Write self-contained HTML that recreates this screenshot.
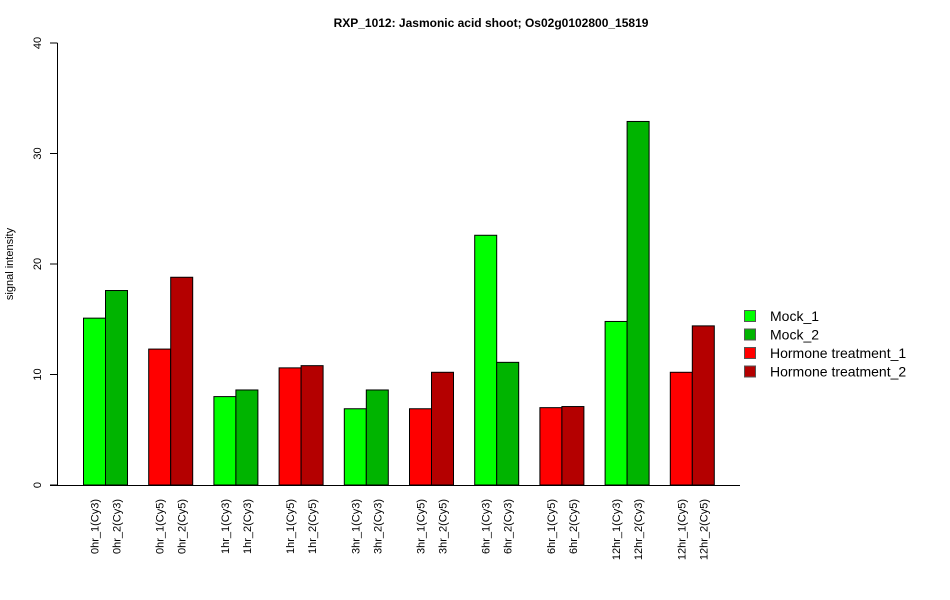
<!DOCTYPE html>
<html><head><meta charset="utf-8"><style>body{margin:0;background:#fff}svg{display:block;font-family:"Liberation Sans",Arial,sans-serif}</style></head>
<body>
<svg id="chart" width="950" height="600" viewBox="0 0 950 600">
<text x="491" y="27" text-anchor="middle" font-size="12" font-weight="bold">RXP_1012: Jasmonic acid shoot; Os02g0102800_15819</text>
<text transform="translate(13,264) rotate(-90)" text-anchor="middle" font-size="11">signal intensity</text>
<g id="plot"></g>
</svg>
<script>
const categories=["0hr_1(Cy3)","0hr_2(Cy3)","0hr_1(Cy5)","0hr_2(Cy5)","1hr_1(Cy3)","1hr_2(Cy3)","1hr_1(Cy5)","1hr_2(Cy5)","3hr_1(Cy3)","3hr_2(Cy3)","3hr_1(Cy5)","3hr_2(Cy5)","6hr_1(Cy3)","6hr_2(Cy3)","6hr_1(Cy5)","6hr_2(Cy5)","12hr_1(Cy3)","12hr_2(Cy3)","12hr_1(Cy5)","12hr_2(Cy5)"];
const values=[15.1,17.6,12.3,18.8,8.0,8.6,10.6,10.8,6.9,8.6,6.9,10.2,22.6,11.1,7.0,7.1,14.8,32.9,10.2,14.4];
const seriesIdx=[0,1,2,3,0,1,2,3,0,1,2,3,0,1,2,3,0,1,2,3];
const seriesNames=["Mock_1","Mock_2","Hormone treatment_1","Hormone treatment_2"];
const yTicks=[0,10,20,30,40];
const colors=["#00ff00","#00b400","#ff0000","#b40000"];
const NS="http://www.w3.org/2000/svg";
const g=document.getElementById('plot');
const y=v=>485-v*(442/40);
const x=i=>83+Math.floor(i/2)*65.2+(i%2)*22;
function mk(t,a,p){const e=document.createElementNS(NS,t);for(const k in a)e.setAttribute(k,a[k]);(p||g).appendChild(e);return e;}
let ax=mk('line',{x1:57.5,x2:57.5,y1:y(0),y2:y(40),stroke:'#000'});


yTicks.forEach(t=>{
 const l=mk('line',{x1:50,x2:57.5,y1:y(t),y2:y(t),stroke:'#000'});
 
 
 const tx=mk('text',{transform:`translate(41,${y(t)}) rotate(-90)`,'text-anchor':'middle','font-size':11});
 tx.textContent=t;
 
 
});
values.forEach((v,i)=>{
 const r=mk('rect',{x:x(i)+0.5,y:y(v),width:22,height:y(0)-y(v),fill:colors[seriesIdx[i]],stroke:'#000','stroke-width':1});
 
 
 const tx=mk('text',{transform:`translate(${x(i)+15.5},499) rotate(-90)`,'text-anchor':'end','font-size':11});
 tx.textContent=categories[i];
 
 
});
let xa=mk('line',{x1:50,x2:740,y1:485.5,y2:485.5,stroke:'#000'});


seriesNames.forEach((n,i)=>{
 const yy=316+i*18.5;
 const r=mk('rect',{x:744.5,y:yy-5.5,width:11,height:11,fill:colors[i],stroke:'#555'});
 
 
 const t=mk('text',{x:770,y:yy+5,'font-size':14});
 t.textContent=n;
 
 
});
</script>
</body></html>
